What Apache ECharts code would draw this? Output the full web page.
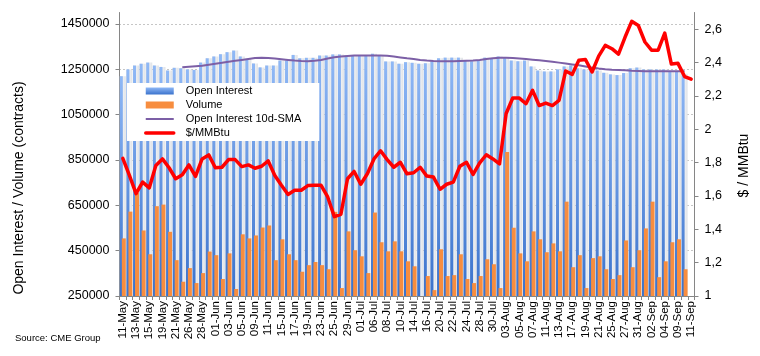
<!DOCTYPE html>
<html><head><meta charset="utf-8">
<script src="https://cdn.jsdelivr.net/npm/echarts@6/dist/echarts.min.js"></script>
<style>html,body{margin:0;padding:0;background:#fff}#c{width:760px;height:356px}</style>
</head><body><div id="c"></div>
<script>
const dates = ['11-May','12-May','13-May','14-May','15-May','18-May','19-May','20-May','21-May','22-May','26-May','27-May','28-May','29-May',
'01-Jun','02-Jun','03-Jun','04-Jun','05-Jun','08-Jun','09-Jun','10-Jun','11-Jun','12-Jun','15-Jun','16-Jun','17-Jun','18-Jun','19-Jun','22-Jun','23-Jun','24-Jun','25-Jun','26-Jun','29-Jun','30-Jun',
'01-Jul','02-Jul','06-Jul','07-Jul','08-Jul','09-Jul','10-Jul','13-Jul','14-Jul','15-Jul','16-Jul','17-Jul','20-Jul','21-Jul','22-Jul','23-Jul','24-Jul','27-Jul','28-Jul','29-Jul','30-Jul','31-Jul',
'03-Aug','04-Aug','05-Aug','06-Aug','07-Aug','10-Aug','11-Aug','12-Aug','13-Aug','14-Aug','17-Aug','18-Aug','19-Aug','20-Aug','21-Aug','24-Aug','25-Aug','26-Aug','27-Aug','28-Aug','31-Aug',
'01-Sep','02-Sep','03-Sep','04-Sep','08-Sep','09-Sep','10-Sep','11-Sep'];

const openInterest = [1219000,1249000,1266000,1274000,1279000,1266000,1260000,1244000,1256000,1254000,
1249000,1247000,1279000,1298000,1306000,1316000,1325000,1332000,1306000,1296000,
1275000,1258000,1266000,1266000,1288000,1288000,1313000,1298000,1300000,1300000,
1310000,1310000,1315000,1315000,1310000,1310000,1310000,1310000,1318000,1310000,
1284000,1284000,1274000,1281000,1278000,1274000,1276000,1285000,1298000,1301000,
1301000,1301000,1288000,1285000,1288000,1301000,1296000,1306000,1299000,1288000,
1285000,1288000,1262000,1244000,1240000,1240000,1249000,1262000,1266000,1254000,
1249000,1244000,1244000,1234000,1227000,1224000,1233000,1254000,1257000,1249000,
1249000,1249000,1249000,1240000,1240000,1230000,null];

const volume = [504000,622000,704000,539000,434000,646000,653000,533000,408000,313000,
373000,307000,351000,446000,430000,325000,438000,281000,522000,504000,
517000,552000,561000,408000,500000,434000,408000,357000,386000,400000,
386000,368000,621000,285000,535000,452000,425000,351000,618000,487000,
447000,491000,447000,403000,381000,null,338000,276000,456000,338000,
342000,434000,325000,307000,338000,412000,390000,285000,885000,551000,
438000,403000,535000,500000,443000,482000,447000,666000,377000,430000,
285000,417000,425000,368000,325000,342000,495000,377000,452000,548000,
666000,333000,403000,487000,500000,368000,null];

const oiSma10 = [null,null,null,null,null,null,null,null,null,1259000,
1261000,1263000,1265000,1270000,1274000,1278000,1283000,1287000,1291000,1295000,
1299000,1300000,1299000,1297000,1294000,1291000,1288000,1286000,1285000,1287000,
1291000,1297000,1303000,1306000,1308000,1310000,1310000,1310000,1310000,1310000,
1309000,1306000,1302000,1298000,1295000,1291000,1288000,1286000,1285000,1285000,
1285000,1286000,1287000,1288000,1291000,1295000,1298000,1300000,1300000,1299000,
1297000,1295000,1292000,1289000,1286000,1283000,1279000,1275000,1271000,1267000,
1262000,1257000,1253000,1250000,1248000,1247000,1245000,1243000,1242000,1241000,
1241000,1241000,1241000,1241000,1241000,1241000,null];

const priceUsdMmbtu = [1.825,1.723,1.614,1.683,1.648,1.782,1.822,1.769,1.703,1.727,
1.786,1.717,1.822,1.846,1.769,1.772,1.818,1.818,1.776,1.786,
1.766,1.778,1.810,1.723,1.664,1.609,1.634,1.634,1.662,1.664,
1.664,1.594,1.476,1.490,1.703,1.747,1.670,1.733,1.822,1.871,
1.818,1.772,1.802,1.733,1.739,1.772,1.719,1.713,1.640,1.670,
1.683,1.778,1.802,1.729,1.798,1.847,1.822,1.792,2.094,2.187,
2.187,2.153,2.233,2.142,2.157,2.142,2.173,2.349,2.329,2.414,
2.418,2.343,2.438,2.503,2.483,2.450,2.553,2.647,2.622,2.523,
2.474,2.474,2.576,2.391,2.395,2.316,2.300];

const leftAxisTicks = {min: 250000, max: 1500000, interval: 200000};
const rightAxisTicks = {min: 1, max: 2.7, interval: 0.2};

const FONT = '"Liberation Sans", Arial, sans-serif';
const AXIS_GRAY = '#868686';

const chart = echarts.init(document.getElementById('c'), null, {renderer: 'canvas'});
chart.setOption({
  animation: false,
  backgroundColor: '#fff',
  textStyle: {fontFamily: FONT},
  grid: {left: 119.5, right: 65.5, top: 12.5, bottom: 60, containLabel: false},
  legend: {
    orient: 'vertical', left: 127, top: 83,
    backgroundColor: '#fff', padding: [1, 18, 1, 17],
    itemWidth: 28, itemHeight: 7, itemGap: 0,
    textStyle: {fontSize: 11, lineHeight: 14, color: '#000', fontFamily: FONT, padding: [0, 0, 0, 7]},
    data: [
      {name: 'Open Interest', icon: 'rect'},
      {name: 'Volume', icon: 'rect'},
      {name: 'Open Interest 10d-SMA', itemStyle: {opacity: 0}, lineStyle: {width: 2}},
      {name: '$/MMBtu', itemStyle: {opacity: 0}, lineStyle: {width: 3.5}}
    ]
  },
  xAxis: [
    {
      type: 'category', data: dates, boundaryGap: true, gridIndex: 0,
      axisLine: {show: true, lineStyle: {color: AXIS_GRAY}},
      axisTick: {show: true, interval: 0, length: 4, lineStyle: {color: AXIS_GRAY}},
      axisLabel: {interval: 1, rotate: 90, fontSize: 11.5, margin: 5, color: '#000', fontFamily: FONT},
      splitLine: {show: false}
    },
    {type: 'category', data: dates, boundaryGap: true, gridIndex: 0, show: false}
  ],
  yAxis: [
    {
      type: 'value', position: 'left',
      min: leftAxisTicks.min, max: leftAxisTicks.max, interval: leftAxisTicks.interval,
      axisLine: {show: true, lineStyle: {color: AXIS_GRAY}},
      axisTick: {show: true, length: 4, lineStyle: {color: AXIS_GRAY}},
      axisLabel: {fontSize: 12.5, margin: 10, color: '#000', fontFamily: FONT, showMaxLabel: false,
        formatter: v => String(Math.round(v))},
      splitLine: {show: true, showMinLine: false, showMaxLine: false, lineStyle: {color: '#8c8c8c', width: 1, type: [1, 3]}}
    },
    {
      type: 'value', position: 'right',
      min: rightAxisTicks.min, max: rightAxisTicks.max, interval: rightAxisTicks.interval,
      axisLine: {show: true, lineStyle: {color: AXIS_GRAY}},
      axisTick: {show: true, length: 4, lineStyle: {color: AXIS_GRAY}},
      axisLabel: {fontSize: 12.5, margin: 10, color: '#000', fontFamily: FONT, showMaxLabel: false,
        formatter: v => String(Math.round(v * 10) / 10).replace('.', ',')},
      splitLine: {show: false}
    }
  ],
  series: [
    {
      name: 'OI shade', type: 'bar', xAxisIndex: 1, yAxisIndex: 0, data: openInterest,
      barWidth: '91%', silent: true, z: 1,
      itemStyle: {color: new echarts.graphic.LinearGradient(0, 0, 1, 0, [
        {offset: 0, color: '#cfd5de'}, {offset: 0.6, color: '#eceef1'}, {offset: 1, color: '#dfe2e6'}])}
    },
    {
      name: 'Open Interest', type: 'bar', xAxisIndex: 0, yAxisIndex: 0, data: openInterest,
      barWidth: '45%', barGap: '-33%', z: 2,
      itemStyle: {color: new echarts.graphic.LinearGradient(0, 0, 0, 1, [
        {offset: 0, color: '#8fb8f6'}, {offset: 1, color: '#3a72cc'}])}
    },
    {
      name: 'Volume', type: 'bar', xAxisIndex: 0, yAxisIndex: 0, data: volume,
      barWidth: '60%', barGap: '-33%', z: 3,
      itemStyle: {color: '#f78d3f'}
    },
    {
      name: 'Open Interest 10d-SMA', type: 'line', xAxisIndex: 0, yAxisIndex: 0, data: oiSma10,
      symbol: 'none', showSymbol: false, z: 4,
      itemStyle: {color: '#7c5fa6'},
      lineStyle: {color: '#7c5fa6', width: 2}
    },
    {
      name: '$/MMBtu', type: 'line', xAxisIndex: 0, yAxisIndex: 1, data: priceUsdMmbtu,
      symbol: 'none', showSymbol: false, z: 5,
      itemStyle: {color: '#ff0000'},
      lineStyle: {color: '#ff0000', width: 3.5, join: 'round', cap: 'round'}
    }
  ],
  graphic: [
    {type: 'text', x: 19, y: 188, rotation: Math.PI / 2,
      style: {text: 'Open Interest / Volume (contracts)', font: '14px ' + FONT, fill: '#000', textAlign: 'center', textVerticalAlign: 'middle'}},
    {type: 'text', x: 744, y: 165.5, rotation: Math.PI / 2,
      style: {text: '$ / MMBtu', font: '14px ' + FONT, fill: '#000', textAlign: 'center', textVerticalAlign: 'middle'}},
    {type: 'text', x: 15, y: 338,
      style: {text: 'Source: CME Group', font: '9.5px ' + FONT, fill: '#000', textAlign: 'left', textVerticalAlign: 'middle'}}
  ]
});
</script>
</body></html>
